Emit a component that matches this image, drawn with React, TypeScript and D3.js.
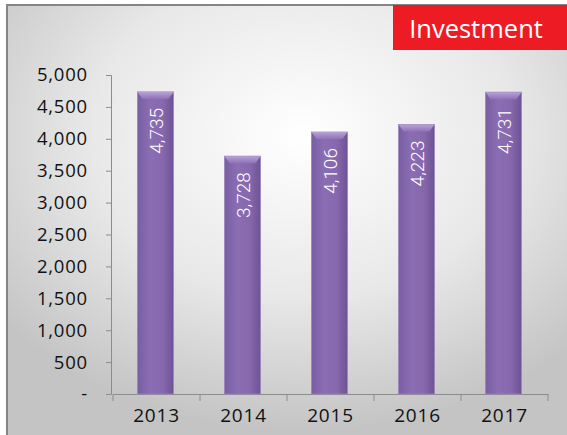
import React, { useEffect, useRef } from 'react';
import * as d3 from 'd3';

const years = ['2013', '2014', '2015', '2016', '2017'];
const investment = [4735, 3728, 4106, 4223, 4731];
const yTicks = [0, 500, 1000, 1500, 2000, 2500, 3000, 3500, 4000, 4500, 5000];
const title = 'Investment';

export default function App() {
  const ref = useRef<SVGSVGElement>(null);

  useEffect(() => {
    const W = 567, H = 435;
    const margin = { top: 75, right: 19, bottom: 41, left: 113 };
    const width = W - margin.left - margin.right;
    const height = H - margin.top - margin.bottom;

    const svg = d3.select(ref.current).attr('width', W).attr('height', H);
    svg.selectAll('*').remove();

    const defs = svg.append('defs');
    const bg = defs.append('radialGradient').attr('id', 'bg')
      .attr('cx', '52%').attr('cy', '30%').attr('r', '68%');
    bg.append('stop').attr('offset', '0%').attr('stop-color', '#ffffff');
    bg.append('stop').attr('offset', '55%').attr('stop-color', '#e8e8e8');
    bg.append('stop').attr('offset', '100%').attr('stop-color', '#c4c4c4');

    const barGrad = defs.append('linearGradient').attr('id', 'bar')
      .attr('x1', '0').attr('x2', '1').attr('y1', '0').attr('y2', '0');
    barGrad.append('stop').attr('offset', '0%').attr('stop-color', '#7a5ea3');
    barGrad.append('stop').attr('offset', '35%').attr('stop-color', '#8a6db3');
    barGrad.append('stop').attr('offset', '70%').attr('stop-color', '#8768ad');
    barGrad.append('stop').attr('offset', '100%').attr('stop-color', '#6e5394');

    const capGrad = defs.append('linearGradient').attr('id', 'cap')
      .attr('x1', '0').attr('x2', '0').attr('y1', '0').attr('y2', '1');
    capGrad.append('stop').attr('offset', '0%').attr('stop-color', '#b8a2d6');
    capGrad.append('stop').attr('offset', '100%').attr('stop-color', '#8f72b8');

    // background + border
    svg.append('rect').attr('x', 0).attr('y', 0).attr('width', W).attr('height', H).attr('fill', '#fff');
    svg.append('rect').attr('x', 7).attr('y', 5).attr('width', W).attr('height', H)
      .attr('fill', 'url(#bg)').attr('stroke', '#858585').attr('stroke-width', 2);

    // title box
    svg.append('rect').attr('x', 393).attr('y', 5).attr('width', W - 393).attr('height', 45).attr('fill', '#ed1c24');
    svg.append('text').attr('x', 476).attr('y', 38)
      .attr('text-anchor', 'middle').attr('fill', '#fff')
      .style('font-family', '"Open Sans", sans-serif').style('font-size', '25.5px')
      .text(title);

    const g = svg.append('g').attr('transform', `translate(${margin.left},${margin.top})`);

    const x = d3.scaleBand().domain(years).range([0, width]).paddingInner(0).paddingOuter(0);
    const y = d3.scaleLinear().domain([0, 5000]).range([height, 0]);
    const fmt = d3.format(',');

    // y axis
    const yAxis = g.append('g').attr('transform', 'translate(-2,0)')
      .call(d3.axisLeft(y).tickValues(yTicks).tickSize(5).tickSizeOuter(5)
        .tickFormat((d) => (+d === 0 ? '-' : fmt(+d))));
    yAxis.select('.domain').attr('stroke', '#8c8c8c');
    yAxis.selectAll('.tick line').attr('stroke', '#8c8c8c');
    yAxis.selectAll('.tick text').attr('x', -23).attr('fill', '#111')
      .style('font-family', '"Open Sans", sans-serif').style('font-size', '18.5px')
      .style('letter-spacing', '0.8px');

    // x axis
    const xAxis = g.append('g').attr('transform', `translate(0,${height})`)
      .call(d3.axisBottom(x).tickSize(0).tickSizeOuter(0));
    xAxis.select('.domain').attr('stroke', '#8c8c8c');
    xAxis.selectAll('.tick text').attr('dy', '0').attr('y', 28).attr('fill', '#111')
      .style('font-family', '"Open Sans", sans-serif').style('font-size', '19px')
      .style('letter-spacing', '0.8px');
    xAxis.selectAll('line.sep')
      .data([...years.map((d) => x(d) as number), width])
      .enter().append('line').attr('class', 'sep')
      .attr('x1', (d) => d).attr('x2', (d) => d).attr('y1', 0).attr('y2', 7)
      .attr('stroke', '#8c8c8c');

    // bars
    const bw = 36;
    const bars = g.append('g').selectAll('g').data(investment).enter().append('g')
      .attr('transform', (d, i) => `translate(${(x(years[i]) as number) + x.bandwidth() / 2 - bw / 2 - 1},0)`);

    bars.append('rect').attr('x', 0).attr('y', (d) => y(d)).attr('width', bw)
      .attr('height', (d) => height - y(d)).attr('fill', 'url(#bar)')
      .attr('stroke', '#9b86bb').attr('stroke-width', 0.8);
    bars.append('path')
      .attr('d', (d) => `M0,${y(d)} L${bw},${y(d)} L${bw - 5},${y(d) + 7} L5,${y(d) + 7} Z`)
      .attr('fill', 'url(#cap)');

    bars.append('text')
      .attr('transform', (d) => `translate(${bw / 2 + 7},${y(d) + 16}) rotate(-90)`)
      .attr('text-anchor', 'end').attr('fill', '#fff')
      .style('font-family', '"Roboto", sans-serif').style('font-weight', 300)
      .style('font-size', '19px')
      .text((d) => fmt(d));
  }, []);

  return <svg ref={ref} style={{ position: 'absolute', left: 0, top: 0 }}></svg>;
}
